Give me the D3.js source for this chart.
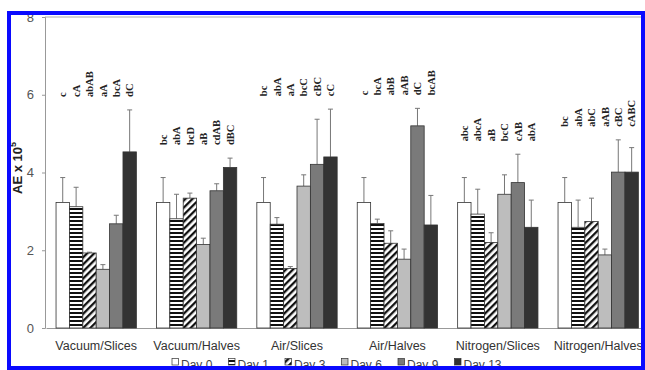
<!DOCTYPE html>
<html>
<head>
<meta charset="utf-8">
<script src="https://cdn.jsdelivr.net/npm/d3@7"></script>
<style>
  html, body { margin: 0; padding: 0; background: #fff; }
  svg { display: block; }
</style>
</head>
<body>
<svg id="chart" width="645" height="370"></svg>
<script>
// Treatment groups along the x axis
const categories = ["Vacuum/Slices", "Vacuum/Halves", "Air/Slices", "Air/Halves", "Nitrogen/Slices", "Nitrogen/Halves"];
const days = ["Day 0", "Day 1", "Day 3", "Day 6", "Day 9", "Day 13"];

// Mean AE x 10^5 per storage day, one entry per group
const day0Mean  = [3.23, 3.23, 3.23, 3.23, 3.23, 3.23];
const day1Mean  = [3.12, 2.81, 2.67, 2.69, 2.93, 2.59];
const day3Mean  = [1.93, 3.34, 1.53, 2.18, 2.20, 2.74];
const day6Mean  = [1.51, 2.15, 3.65, 1.77, 3.44, 1.88];
const day9Mean  = [2.68, 3.53, 4.21, 5.20, 3.74, 4.01];
const day13Mean = [4.53, 4.13, 4.40, 2.65, 2.59, 4.01];

// Standard deviations (upper error bars)
const day0Sd  = [0.64, 0.64, 0.64, 0.64, 0.64, 0.64];
const day1Sd  = [0.50, 0.63, 0.17, 0.11, 0.64, 0.70];
const day3Sd  = [0.02, 0.13, 0.05, 0.32, 0.25, 0.60];
const day6Sd  = [0.12, 0.16, 0.29, 0.26, 0.50, 0.15];
const day9Sd  = [0.22, 0.18, 1.16, 0.45, 0.73, 0.83];
const day13Sd = [1.08, 0.24, 1.23, 0.76, 0.70, 0.63];

// Significance letters, per group, in day order
const letters = [
  ["c", "cA", "abAB", "aA", "bcA", "dC"],
  ["bc", "abA", "bcD", "aB", "cdAB", "dBC"],
  ["bc", "abA", "aA", "bcC", "cBC", "cC"],
  ["c", "bcA", "abB", "aAB", "dC", "bcAB"],
  ["abc", "abcA", "aB", "bcC", "cAB", "abA"],
  ["bc", "abA", "abC", "aAB", "cBC", "cABC"]
];

const yTicks = [0, 2, 4, 6, 8];

const means = [day0Mean, day1Mean, day3Mean, day6Mean, day9Mean, day13Mean];
const sds = [day0Sd, day1Sd, day3Sd, day6Sd, day9Sd, day13Sd];

const rows = categories.map((c, ci) => ({
  category: c,
  bars: days.map((d, di) => ({ day: d, di, mean: means[di][ci], sd: sds[di][ci], letter: letters[ci][di] }))
}));

const svg = d3.select("#chart");
const font = "'Liberation Sans', Arial, sans-serif";

// Fill patterns
const defs = svg.append("defs");
const hp = defs.append("pattern").attr("id", "hstripe").attr("patternUnits", "userSpaceOnUse")
  .attr("width", 4).attr("height", 4);
hp.append("rect").attr("width", 4).attr("height", 4).attr("fill", "#fff");
hp.append("rect").attr("width", 4).attr("height", 2).attr("fill", "#111");

const dp = defs.append("pattern").attr("id", "dstripe").attr("patternUnits", "userSpaceOnUse")
  .attr("width", 5).attr("height", 5).attr("patternTransform", "rotate(45)");
dp.append("rect").attr("width", 5).attr("height", 5).attr("fill", "#fff");
dp.append("rect").attr("width", 2.3).attr("height", 5).attr("fill", "#111");

const fills = ["#ffffff", "url(#hstripe)", "url(#dstripe)", "#bdbdbd", "#7a7a7a", "#333333"];

const margin = { left: 46, top: 17, bottom: 328 };
const x0 = d3.scaleBand().domain(categories).range([46, 648.4]).paddingInner(0.2).paddingOuter(0.1);
const x1 = d3.scaleBand().domain(days).range([0, x0.bandwidth()]);
const y = d3.scaleLinear().domain([0, 8]).range([margin.bottom, margin.top]);

// Frame line along the top
svg.append("line").attr("x1", 45).attr("x2", 645).attr("y1", margin.top).attr("y2", margin.top)
  .attr("stroke", "#aaa").attr("stroke-width", 1);

// Y axis
const yAxis = svg.append("g").attr("transform", "translate(45,0)")
  .call(d3.axisLeft(y).tickValues(yTicks).tickSize(3).tickPadding(8).tickFormat(d3.format("d")));
yAxis.select(".domain").attr("stroke", "#999");
yAxis.selectAll(".tick line").attr("stroke", "#999");
yAxis.selectAll("text").attr("font-family", font).attr("font-size", 13).attr("fill", "#555");

// X axis baseline and category labels
const xAxis = svg.append("g").attr("transform", `translate(0,${margin.bottom})`)
  .call(d3.axisBottom(x0).tickSize(0).tickPadding(13));
xAxis.select(".domain").attr("stroke", "#999");
xAxis.selectAll("text").attr("font-family", font).attr("font-size", 12.5).attr("fill", "#333");

// Bars, error bars, letters
const groups = svg.append("g").selectAll("g").data(rows).join("g")
  .attr("transform", d => `translate(${x0(d.category)},0)`);

groups.selectAll("line.err").data(d => d.bars).join("line").attr("class", "err")
  .attr("x1", d => x1(d.day) + x1.bandwidth() / 2).attr("x2", d => x1(d.day) + x1.bandwidth() / 2)
  .attr("y1", d => y(d.mean)).attr("y2", d => y(d.mean + d.sd))
  .attr("stroke", "#777").attr("stroke-width", 1);
groups.selectAll("line.cap").data(d => d.bars).join("line").attr("class", "cap")
  .attr("x1", d => x1(d.day) + x1.bandwidth() / 2 - 2.5).attr("x2", d => x1(d.day) + x1.bandwidth() / 2 + 2.5)
  .attr("y1", d => y(d.mean + d.sd)).attr("y2", d => y(d.mean + d.sd))
  .attr("stroke", "#777").attr("stroke-width", 1);

groups.selectAll("rect").data(d => d.bars).join("rect")
  .attr("x", d => x1(d.day)).attr("width", x1.bandwidth())
  .attr("y", d => y(d.mean)).attr("height", d => y(0) - y(d.mean))
  .attr("fill", d => fills[d.di]).attr("stroke", "#333").attr("stroke-width", 0.8);

groups.each(function (g) {
  const top = d3.max(g.bars, b => b.mean + b.sd);
  const base = y(top) - 13;
  d3.select(this).selectAll("text.sig").data(g.bars).join("text").attr("class", "sig")
    .attr("transform", b => `translate(${x1(b.day) + x1.bandwidth() / 2},${base}) rotate(-90)`)
    .attr("dy", "0.35em")
    .attr("font-family", "'Liberation Serif', 'Times New Roman', serif")
    .attr("font-weight", "bold").attr("font-size", 10.5).attr("fill", "#222")
    .text(b => b.letter);
});

// Y axis title
svg.append("text").attr("transform", "translate(22,168) rotate(-90)")
  .attr("text-anchor", "middle").attr("font-family", font).attr("font-weight", "bold")
  .attr("font-size", 13).attr("fill", "#222")
  .call(t => {
    t.append("tspan").text("AE x 10");
    t.append("tspan").attr("dy", -6).attr("font-size", 9).text("5");
  });

// Legend
const legend = svg.append("g").selectAll("g").data(days).join("g")
  .attr("transform", (d, i) => `translate(${172 + i * 56.5},0)`);
legend.append("rect").attr("x", 0).attr("y", 358.5).attr("width", 6.5).attr("height", 6.5)
  .attr("fill", (d, i) => fills[i]).attr("stroke", "#333").attr("stroke-width", 0.7);
legend.append("text").attr("x", 9).attr("y", 368.5).attr("font-family", font)
  .attr("font-size", 12).attr("fill", "#444").text(d => d);

// Blue outer border
svg.append("rect").attr("x", 9).attr("y", 13).attr("width", 634).attr("height", 355)
  .attr("fill", "none").attr("stroke", "#0a0aff").attr("stroke-width", 4);
</script>
</body>
</html>
